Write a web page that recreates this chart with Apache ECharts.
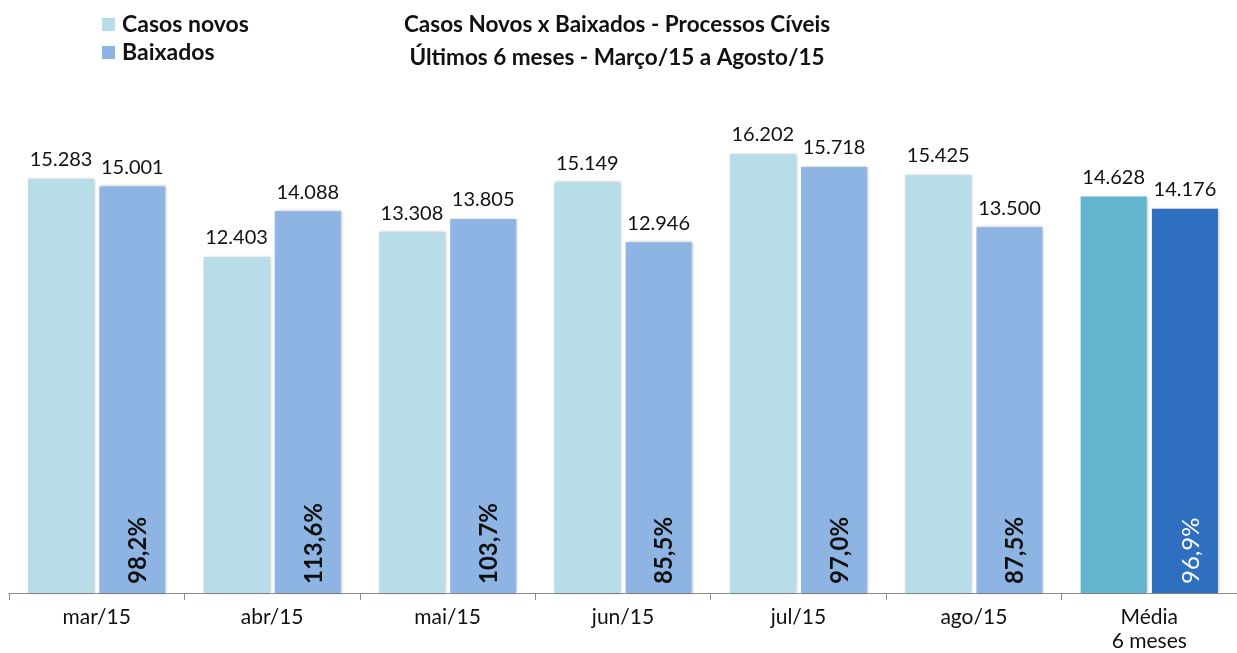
<!DOCTYPE html>
<html>
<head>
<meta charset="utf-8">
<script src="https://cdn.jsdelivr.net/npm/echarts@6/dist/echarts.min.js"></script>
<style>
    html, body { margin: 0; padding: 0; background: #fff; }
    #chart { width: 1237px; height: 653px; }
</style>
</head>
<body>
<div id="chart"></div>
<script>
    // dados
    var meses = ['mar/15', 'abr/15', 'mai/15', 'jun/15', 'jul/15', 'ago/15', 'Média\n6 meses'];
    var casosNovos = [15283, 12403, 13308, 15149, 16202, 15425, 14628];
    var baixados = [15001, 14088, 13805, 12946, 15718, 13500, 14176];
    var percentuais = ['98,2%', '113,6%', '103,7%', '85,5%', '97,0%', '87,5%', '96,9%'];

    var fonte = 'Lato, "Liberation Sans", sans-serif';
    var corNovos = '#b7dde8', corBaixados = '#8eb4e3';
    var corMediaNovos = '#63b5cf', corMediaBaixados = '#2e70bf';
    var sombra = { shadowColor: 'rgba(0,0,0,0.28)', shadowBlur: 3, shadowOffsetX: 1, shadowOffsetY: 0 };

    function fmt(v) {
        return (v / 1000).toFixed(3);
    }

    function dadosCor(arr, corMedia) {
        return arr.map(function (v, i) {
            if (i === arr.length - 1) {
                return { value: v, itemStyle: { color: corMedia } };
            }
            return v;
        });
    }

    var myChart = echarts.init(document.getElementById('chart'));
    var option = {
        animation: false,
        textStyle: { fontFamily: fonte },
        title: {
            text: 'Casos Novos x Baixados - Processos Cíveis\nÚltimos 6 meses - Março/15 a Agosto/15',
            left: 617,
            top: 8,
            padding: 0,
            textAlign: 'center',
            textStyle: { fontFamily: fonte, fontSize: 22.5, fontWeight: 'bold', color: '#111', lineHeight: 33 }
        },
        legend: {
            data: ['Casos novos', 'Baixados'],
            orient: 'vertical',
            left: 102,
            top: 13,
            padding: 0,
            itemWidth: 13,
            itemHeight: 13,
            itemGap: 5,
            icon: 'rect',
            textStyle: { fontFamily: fonte, fontSize: 23, fontWeight: 'bold', color: '#111', padding: [0, 0, 0, 2] }
        },
        grid: { left: 9, right: -8, top: 51, bottom: 60 },
        xAxis: [{
            type: 'category',
            data: meses,
            axisLine: { lineStyle: { color: '#8c8c8c', width: 1 } },
            axisTick: { show: true, length: 7, lineStyle: { color: '#8c8c8c' } },
            axisLabel: { fontFamily: fonte, fontSize: 21, color: '#111', margin: 12, lineHeight: 24 }
        }, {
            type: 'category',
            data: meses,
            show: false
        }],
        yAxis: { type: 'value', min: 0, max: 20000, show: false },
        series: [{
            name: 'Casos novos',
            type: 'bar',
            xAxisIndex: 0,
            barWidth: 66,
            barGap: '8%',
            data: dadosCor(casosNovos, corMediaNovos),
            itemStyle: Object.assign({ color: corNovos }, sombra),
            label: {
                show: true, position: 'top', distance: 9,
                fontFamily: fonte, fontSize: 20, color: '#111',
                formatter: function (p) { return fmt(p.value); }
            }
        }, {
            name: 'Baixados',
            type: 'bar',
            xAxisIndex: 0,
            barWidth: 66,
            barGap: '8%',
            data: dadosCor(baixados, corMediaBaixados),
            itemStyle: Object.assign({ color: corBaixados }, sombra),
            label: {
                show: true, position: 'top', distance: 9,
                fontFamily: fonte, fontSize: 20, color: '#111',
                formatter: function (p) { return fmt(p.value); }
            }
        }, {
            // camada transparente só para o percentual dentro da barra
            name: 'vazio',
            type: 'bar',
            xAxisIndex: 1,
            barWidth: 66,
            barGap: '8%',
            data: casosNovos,
            itemStyle: { color: 'transparent' },
            silent: true
        }, {
            name: 'percentual',
            type: 'bar',
            xAxisIndex: 1,
            barWidth: 66,
            barGap: '8%',
            itemStyle: { color: 'transparent' },
            silent: true,
            label: {
                show: true,
                position: 'insideBottom',
                rotate: 90,
                align: 'left',
                verticalAlign: 'middle',
                distance: 9,
                offset: [0, 6],
                fontFamily: fonte,
                fontSize: 24,
                fontWeight: 'bold',
                color: '#111',
                formatter: function (p) {
                    return percentuais[p.dataIndex];
                }
            }
        }]
    };
    // último percentual em branco (barra escura)
    option.series[3].data = baixados.map(function (v, i) {
        if (i === baixados.length - 1) {
            return { value: v, label: { color: '#fff', fontWeight: 'normal' } };
        }
        return v;
    });
    option && myChart.setOption(option, true);
</script>
</body>
</html>
